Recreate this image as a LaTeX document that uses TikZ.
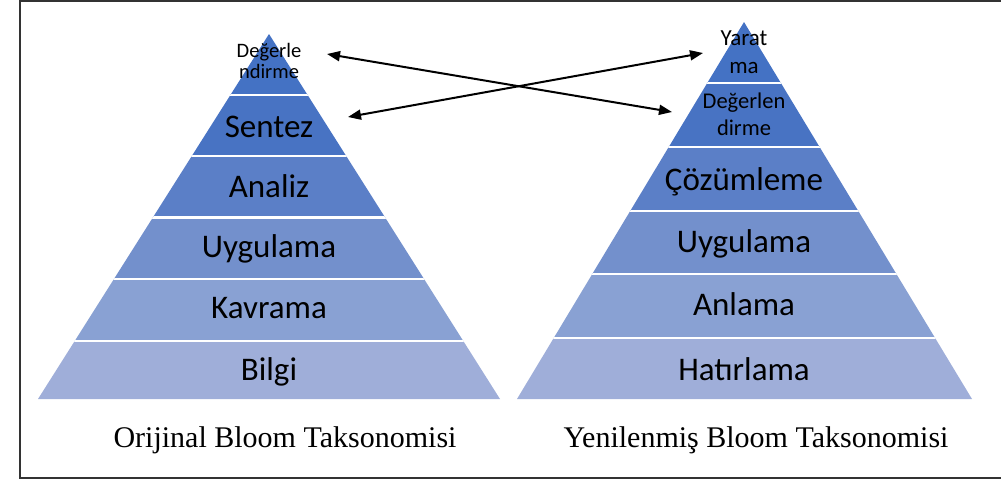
\documentclass[tikz,border=0pt]{standalone}
\usepackage{fontspec}
\setmainfont{Liberation Serif}
\newfontfamily\calib{Carlito}
\usetikzlibrary{arrows.meta}
\definecolor{bandA}{HTML}{4472C4}
\definecolor{bandB}{HTML}{4873C3}
\definecolor{bandC}{HTML}{5B7FC7}
\definecolor{bandD}{HTML}{7390CC}
\definecolor{bandE}{HTML}{89A1D3}
\definecolor{bandF}{HTML}{9FAED9}
\begin{document}
\begin{tikzpicture}[x=1pt,y=-1pt,
  lab/.style={font=\calib\fontsize{33}{40}\selectfont, inner sep=0pt, anchor=base},
  toplab/.style={font=\calib\fontsize{#1}{#1}\selectfont, inner sep=0pt, anchor=base},
  captxt/.style={font=\fontsize{30}{34}\selectfont, inner sep=0pt, anchor=base},
  sepline/.style={white, line width=2.5pt},
  link/.style={line width=2pt, {Triangle[length=13pt,width=10pt]}-{Triangle[length=13pt,width=10pt]}}
]
\useasboundingbox (0,0) rectangle (1001,480);
% frame
\draw[line width=2pt, black!80] (1002,1) -- (20,1) -- (20,478) -- (1002,478);

% left pyramid
\begin{scope}
  \clip (269,34) -- (500,399) -- (38,399) -- cycle;
  \fill[bandA] (0,30) rectangle (1001,95);
  \fill[bandB] (0,95) rectangle (1001,156);
  \fill[bandC] (0,156) rectangle (1001,217.5);
  \fill[bandD] (0,217.5) rectangle (1001,279);
  \fill[bandE] (0,279) rectangle (1001,341);
  \fill[bandF] (0,341) rectangle (1001,400);
  \foreach \yy in {95,156,217.5,279,341} \draw[sepline] (0,\yy) -- (1001,\yy);
\end{scope}

% right pyramid
\begin{scope}
  \clip (744,22) -- (972,399) -- (517,399) -- cycle;
  \fill[bandA] (0,20) rectangle (1001,83);
  \fill[bandB] (0,83) rectangle (1001,147);
  \fill[bandC] (0,147) rectangle (1001,211);
  \fill[bandD] (0,211) rectangle (1001,274);
  \fill[bandE] (0,274) rectangle (1001,338);
  \fill[bandF] (0,338) rectangle (1001,400);
  \foreach \yy in {83,147,211,274,338} \draw[sepline] (0,\yy) -- (1001,\yy);
\end{scope}

% left labels
\node[toplab=20.5] (l6a) at (269,57) {Değerle};
\node[toplab=20.5] (l6b) at (269,78) {ndirme};
\node[lab] (l5) at (269,137) {Sentez};
\node[lab] (l4) at (269,197) {Analiz};
\node[lab] (l3) at (269,257) {Uygulama};
\node[lab] (l2) at (269,318) {Kavrama};
\node[lab] (l1) at (269,380) {Bilgi};

% right labels
\node[toplab=23] (r6a) at (744,45) {Yarat};
\node[toplab=23] (r6b) at (744,73) {ma};
\node[toplab=22.5] (r5a) at (744,108) {Değerlen};
\node[toplab=22.5] (r5b) at (744,135) {dirme};
\node[lab] (r4) at (744,190) {Çözümleme};
\node[lab] (r3) at (744,252) {Uygulama};
\node[lab] (r2) at (744,315) {Anlama};
\node[lab] (r1) at (744,380) {Hatırlama};

% captions
\node[captxt] (capL) at (285,447) {Orijinal Bloom Taksonomisi};
\node[captxt] (capR) at (756,447) {Yenilenmiş Bloom Taksonomisi};

% arrows
\coordinate (a1s) at (327,54);
\coordinate (a1e) at (672,112);
\coordinate (a2s) at (348,117);
\coordinate (a2e) at (703,53);
\draw[link] (a1s) -- (a1e);
\draw[link] (a2s) -- (a2e);
\end{tikzpicture}
\end{document}
